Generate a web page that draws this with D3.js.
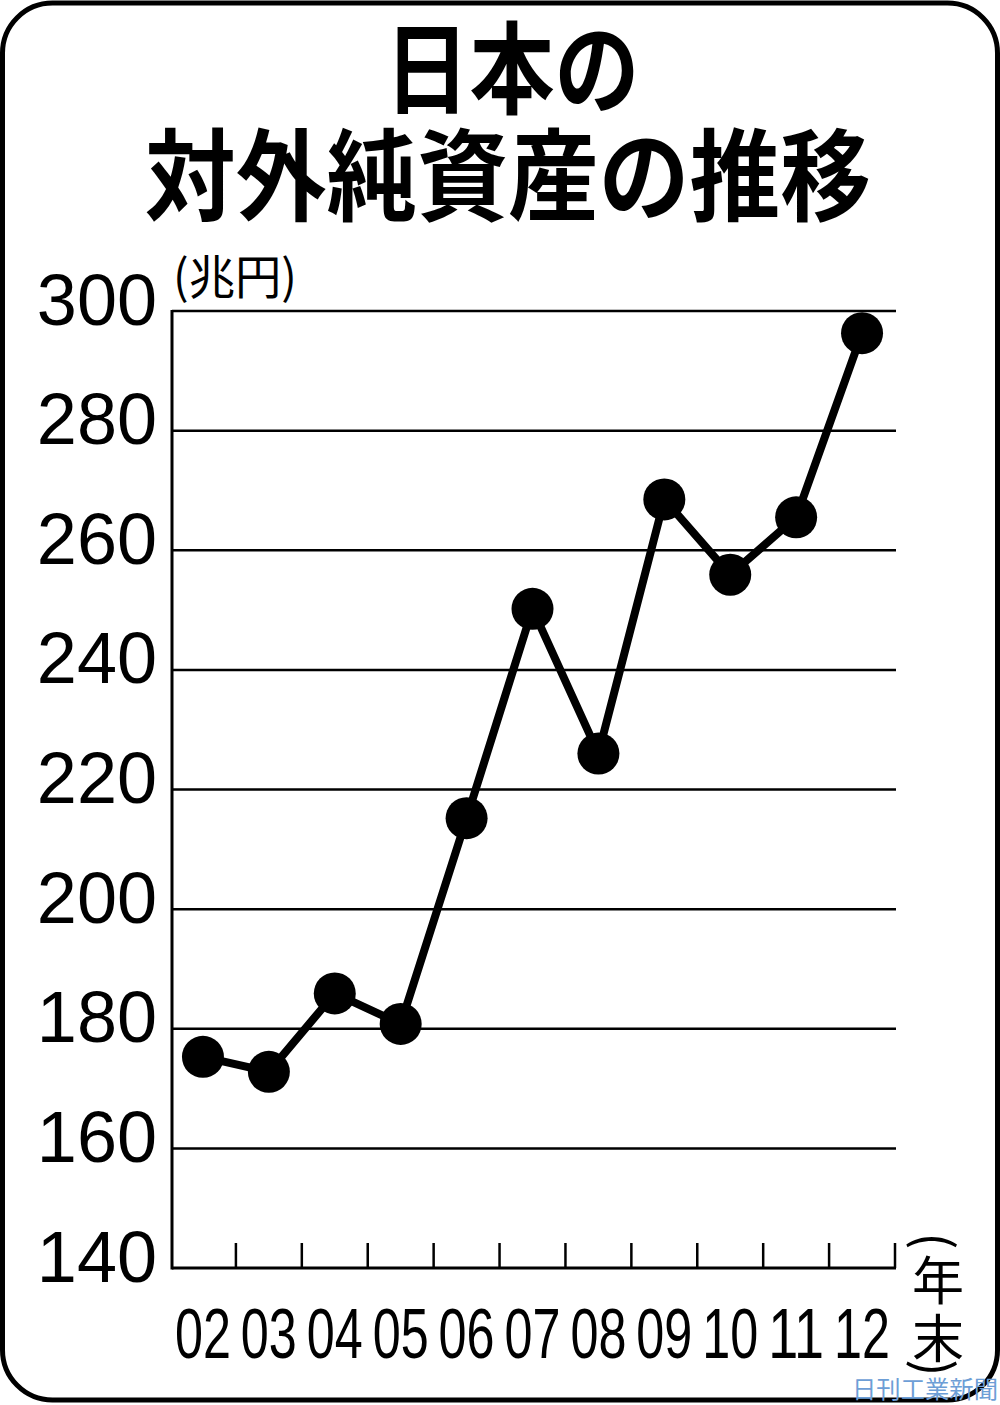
<!DOCTYPE html>
<html>
<head>
<meta charset="utf-8">
<script src="https://cdn.jsdelivr.net/npm/d3@7"></script>
<style>
  html, body { margin: 0; padding: 0; background: #fff; }
</style>
</head>
<body>
<div id="container"></div>
<script>
// data
let years = ["02", "03", "04", "05", "06", "07", "08", "09", "10", "11", "12"];
let values = [175.3, 172.8, 185.9, 180.8, 215.2, 250.2, 226.0, 268.5, 255.9, 265.5, 296.3];
let yTicks = [140, 160, 180, 200, 220, 240, 260, 280, 300];
let titleLines = ["日本の", "対外純資産の推移"];
let unitLabel = "(兆円)";
let xUnitChars = ["年", "末"];
let credit = "日刊工業新聞";

let w = 1000;
let h = 1405;
let jpFont = "'Noto Sans CJK JP', 'Noto Sans CJK SC', sans-serif";
let numFont = "'Liberation Sans', Arial, sans-serif";

let viz = d3.select("#container").append("svg")
    .attr("width", w)
    .attr("height", h)
    .style("display", "block")
    .style("background-color", "white");

// frame
viz.append("rect")
  .attr("x", 2.5).attr("y", 3)
  .attr("width", 995).attr("height", 1397)
  .attr("rx", 50).attr("ry", 50)
  .attr("fill", "none")
  .attr("stroke", "black")
  .attr("stroke-width", 5);

// title
viz.append("text")
  .attr("x", 512).attr("y", 106)
  .attr("text-anchor", "middle")
  .attr("font-family", jpFont).attr("font-weight", 700)
  .attr("font-size", 100)
  .attr("textLength", 255).attr("lengthAdjust", "spacingAndGlyphs")
  .text(titleLines[0]);

viz.append("text")
  .attr("x", 508).attr("y", 213)
  .attr("text-anchor", "middle")
  .attr("font-family", jpFont).attr("font-weight", 700)
  .attr("font-size", 100)
  .attr("textLength", 726).attr("lengthAdjust", "spacingAndGlyphs")
  .text(titleLines[1]);

let plotLeft = 172;
let plotRight = 896;
let plotTop = 311;
let plotBottom = 1268;

let xScale = d3.scaleBand().domain(years).range([170, 895]);
let yScale = d3.scaleLinear().domain([140, 300]).range([plotBottom, plotTop]);

// gridlines
viz.append("g")
  .selectAll("line")
  .data(yTicks.filter(function(d){ return d > 140; }))
  .enter()
    .append("line")
    .attr("x1", plotLeft).attr("x2", plotRight)
    .attr("y1", function(d){ return yScale(d); })
    .attr("y2", function(d){ return yScale(d); })
    .attr("stroke", "black")
    .attr("stroke-width", 2.5);

// y axis labels
let yAxis = d3.axisLeft(yScale).tickValues(yTicks).tickSize(0).tickPadding(15);
let yG = viz.append("g")
  .attr("transform", "translate(" + plotLeft + ",0)")
  .call(yAxis);
yG.select(".domain").remove();
yG.selectAll("text")
  .attr("dy", 13)
  .attr("font-family", numFont)
  .attr("font-size", 72)
  .attr("fill", "black");

// left axis + bottom axis
viz.append("line")
  .attr("x1", plotLeft).attr("x2", plotLeft)
  .attr("y1", plotTop - 1).attr("y2", plotBottom + 1.5)
  .attr("stroke", "black").attr("stroke-width", 3);
viz.append("line")
  .attr("x1", plotLeft).attr("x2", plotRight)
  .attr("y1", plotBottom).attr("y2", plotBottom)
  .attr("stroke", "black").attr("stroke-width", 3);

// x ticks at band boundaries
viz.append("g")
  .selectAll("line")
  .data(years)
  .enter()
    .append("line")
    .attr("x1", function(d){ return xScale(d) + xScale.bandwidth(); })
    .attr("x2", function(d){ return xScale(d) + xScale.bandwidth(); })
    .attr("y1", plotBottom - 25).attr("y2", plotBottom)
    .attr("stroke", "black").attr("stroke-width", 2.5);

// x labels
viz.append("g")
  .selectAll("text")
  .data(years)
  .enter()
    .append("text")
    .attr("x", function(d){ return xScale(d) + xScale.bandwidth() / 2; })
    .attr("y", 1358)
    .attr("text-anchor", "middle")
    .attr("font-family", numFont)
    .attr("font-size", 70)
    .attr("textLength", 56).attr("lengthAdjust", "spacingAndGlyphs")
    .text(function(d){ return d; });

// unit label
viz.append("text")
  .attr("x", 173).attr("y", 294)
  .attr("font-family", jpFont)
  .attr("font-size", 47)
  .attr("textLength", 124).attr("lengthAdjust", "spacingAndGlyphs")
  .text(unitLabel);

// vertical (年末)
let vx = 938;
viz.append("text")
  .attr("transform", "translate(" + vx + ",1241) rotate(90)")
  .attr("text-anchor", "middle").attr("dominant-baseline", "central")
  .attr("font-family", jpFont).attr("font-size", 50)
  .text("(");
viz.append("g")
  .selectAll("text")
  .data(xUnitChars)
  .enter()
    .append("text")
    .attr("x", vx)
    .attr("y", function(d, i){ return 1300 + i * 58; })
    .attr("text-anchor", "middle")
    .attr("font-family", jpFont).attr("font-size", 52)
    .text(function(d){ return d; });
viz.append("text")
  .attr("transform", "translate(" + vx + ",1368) rotate(90)")
  .attr("text-anchor", "middle").attr("dominant-baseline", "central")
  .attr("font-family", jpFont).attr("font-size", 50)
  .text(")");

// line + dots
let line = d3.line()
  .x(function(d, i){ return xScale(years[i]) + xScale.bandwidth() / 2; })
  .y(function(d){ return yScale(d); });

viz.append("path")
  .datum(values)
  .attr("d", line)
  .attr("fill", "none")
  .attr("stroke", "black")
  .attr("stroke-width", 8)
  .attr("stroke-linejoin", "round");

viz.append("g")
  .selectAll("circle")
  .data(values)
  .enter()
    .append("circle")
    .attr("cx", function(d, i){ return xScale(years[i]) + xScale.bandwidth() / 2; })
    .attr("cy", function(d){ return yScale(d); })
    .attr("r", 21)
    .attr("fill", "black");

// credit
viz.append("text")
  .attr("x", 852).attr("y", 1398)
  .attr("font-family", jpFont)
  .attr("font-size", 24)
  .attr("fill", "#6d9ed6")
  .attr("textLength", 146).attr("lengthAdjust", "spacingAndGlyphs")
  .text(credit);
</script>
</body>
</html>
